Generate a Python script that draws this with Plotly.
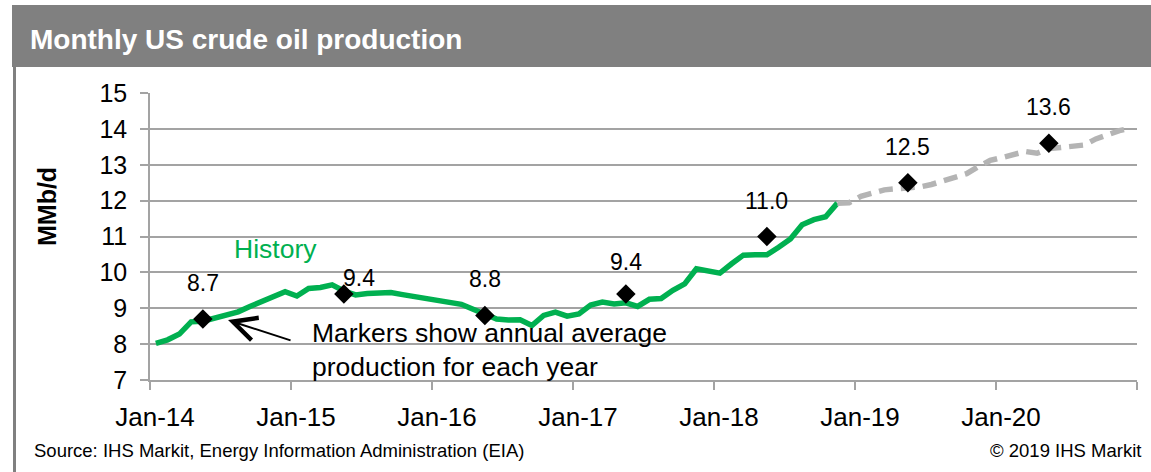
import plotly.graph_objects as go

# Monthly US crude oil production, MMb/d (Jan-2014 .. Nov-2018 actuals)
history = [
    8.02, 8.12, 8.28, 8.62, 8.64, 8.72, 8.80, 8.90, 9.05, 9.20, 9.33, 9.46,   # 2014
    9.34, 9.55, 9.58, 9.65, 9.48, 9.37, 9.41, 9.42, 9.44, 9.38, 9.33, 9.28,   # 2015
    9.23, 9.15, 9.11, 8.97, 8.85, 8.70, 8.67, 8.68, 8.52, 8.80, 8.89, 8.78,   # 2016
    8.84, 9.09, 9.17, 9.12, 9.15, 9.05, 9.25, 9.27, 9.50, 9.68, 10.10, 10.05, # 2017
    9.98, 10.24, 10.48, 10.49, 10.49, 10.70, 10.93, 11.33, 11.47, 11.55, 11.93,  # 2018
]

# Outlook (Nov-2018 .. Dec-2020)
forecast = [
    11.93, 11.94,
    12.12, 12.22, 12.30, 12.33, 12.36, 12.38, 12.45, 12.55, 12.63, 12.75, 12.95, 13.12,  # 2019
    13.20, 13.30, 13.37, 13.32, 13.45, 13.48, 13.50, 13.55, 13.72, 13.85, 13.95, 14.02,  # 2020
]

# Annual average production, one marker per year
years = [2014, 2015, 2016, 2017, 2018, 2019, 2020]
annual_avg = [8.7, 9.4, 8.8, 9.4, 11.0, 12.5, 13.6]

tick_labels = ["Jan-14", "Jan-15", "Jan-16", "Jan-17", "Jan-18", "Jan-19", "Jan-20", ""]

# ---- styling -------------------------------------------------------------
FONT = "Arial, Liberation Sans, sans-serif"
GREEN = "#00B050"
DASH_GRAY = "#B4B4B4"
GRID = "#A3A3A3"
BAR_GRAY = "#808080"
W, H = 1151, 472
L, R, T, B = 150, 14, 93, 92
PW, PH = W - L - R, H - T - B

# pixel offsets of the value labels relative to their markers
label_offsets = [(0, 36), (15, 16), (0, 36), (0, 32), (0, 36), (0, 36), (0, 36)]

# month index -> position at the middle of that month on the x axis
start_year = years[0]
hist_x = [i + 0.5 for i in range(len(history))]
fc_start = len(history) - 1
fc_x = [fc_start + i + 0.5 for i in range(len(forecast))]
avg_x = [(y - start_year) * 12 + 4.5 for y in years]


def px_x(p):
    return (p - L) / PW


def px_y(p):
    return (H - B - p) / PH


fig = go.Figure()

fig.add_trace(go.Scatter(
    x=hist_x, y=history, mode="lines",
    line=dict(color=GREEN, width=5.5), hoverinfo="skip", showlegend=False,
))
fig.add_trace(go.Scatter(
    x=fc_x, y=forecast, mode="lines",
    line=dict(color=DASH_GRAY, width=5.5, dash="14px,8px"),
    hoverinfo="skip", showlegend=False,
))
fig.add_trace(go.Scatter(
    x=avg_x, y=annual_avg, mode="markers",
    marker=dict(symbol="diamond", size=15, color="black"),
    hoverinfo="skip", showlegend=False,
))

annotations = []
for xv, yv, (dx, dy) in zip(avg_x, annual_avg, label_offsets):
    annotations.append(dict(
        x=xv, y=yv, xref="x", yref="y", text=f"{yv:.1f}", showarrow=False,
        xshift=dx, yshift=dy, font=dict(family=FONT, size=23, color="black"),
    ))

annotations += [
    dict(text="<b>Monthly US crude oil production</b>", xref="paper", yref="paper",
         x=px_x(28), y=px_y(39), xanchor="left", yanchor="middle", showarrow=False,
         font=dict(family=FONT, size=28, color="white")),
    dict(text="<b>MMb/d</b>", xref="paper", yref="paper", textangle=-90,
         x=px_x(47), y=px_y(207), xanchor="center", yanchor="middle", showarrow=False,
         font=dict(family=FONT, size=25, color="black")),
    dict(text="History", xref="x", yref="y", x=10.68, y=10.66,
         xanchor="center", yanchor="middle", showarrow=False,
         font=dict(family=FONT, size=26.5, color=GREEN)),
    dict(text="Markers show annual average<br>production for each year",
         xref="x", yref="y", x=13.6, y=7.84, xanchor="left", yanchor="middle",
         align="left", showarrow=False,
         font=dict(family=FONT, size=26.5, color="black")),
    dict(text="", xref="x", yref="y", x=6.64, y=8.67, axref="x", ayref="y",
         ax=12.09, ay=8.09, showarrow=True, arrowhead=5, arrowsize=2.3,
         arrowwidth=2, arrowcolor="black"),
    dict(text="Source: IHS Markit, Energy Information Administration (EIA)",
         xref="paper", yref="paper", x=px_x(32), y=px_y(450),
         xanchor="left", yanchor="middle", showarrow=False,
         font=dict(family=FONT, size=18.5, color="black")),
    dict(text="© 2019 IHS Markit", xref="paper", yref="paper",
         x=px_x(1143), y=px_y(450), xanchor="right", yanchor="middle",
         showarrow=False, font=dict(family=FONT, size=18.5, color="black")),
]

shapes = [
    # title banner
    dict(type="rect", xref="paper", yref="paper", layer="below",
         x0=px_x(12), x1=px_x(W + 2), y0=px_y(67), y1=px_y(5),
         fillcolor=BAR_GRAY, line=dict(width=0)),
    # left frame rule
    dict(type="rect", xref="paper", yref="paper", layer="below",
         x0=px_x(13), x1=px_x(16), y0=px_y(H + 2), y1=px_y(67),
         fillcolor=BAR_GRAY, line=dict(width=0)),
]

fig.update_layout(
    width=W, height=H,
    margin=dict(l=L, r=R, t=T, b=B, pad=0),
    paper_bgcolor="white", plot_bgcolor="white",
    font=dict(family=FONT, color="black"),
    annotations=annotations, shapes=shapes,
    xaxis=dict(
        range=[0, 84], tickmode="array",
        tickvals=[k * 12 for k in range(len(tick_labels))], ticktext=tick_labels,
        showgrid=False, zeroline=False, showline=True, linecolor=GRID, linewidth=1.5,
        ticks="outside", ticklen=8, tickcolor=GRID, tickwidth=1.5,
        tickfont=dict(family=FONT, size=26, color="black"), ticklabelstandoff=5,
        ticklabelshift=5, fixedrange=True,
    ),
    yaxis=dict(
        range=[7, 15], dtick=1, tick0=7,
        showgrid=True, gridcolor=GRID, gridwidth=1.5, zeroline=False,
        showline=True, linecolor=GRID, linewidth=1.5,
        ticks="outside", ticklen=8, tickcolor=GRID, tickwidth=1.5,
        tickfont=dict(family=FONT, size=25, color="black"), ticklabelstandoff=8,
        fixedrange=True,
    ),
)

fig.write_html("out.html", config={"displayModeBar": False})
